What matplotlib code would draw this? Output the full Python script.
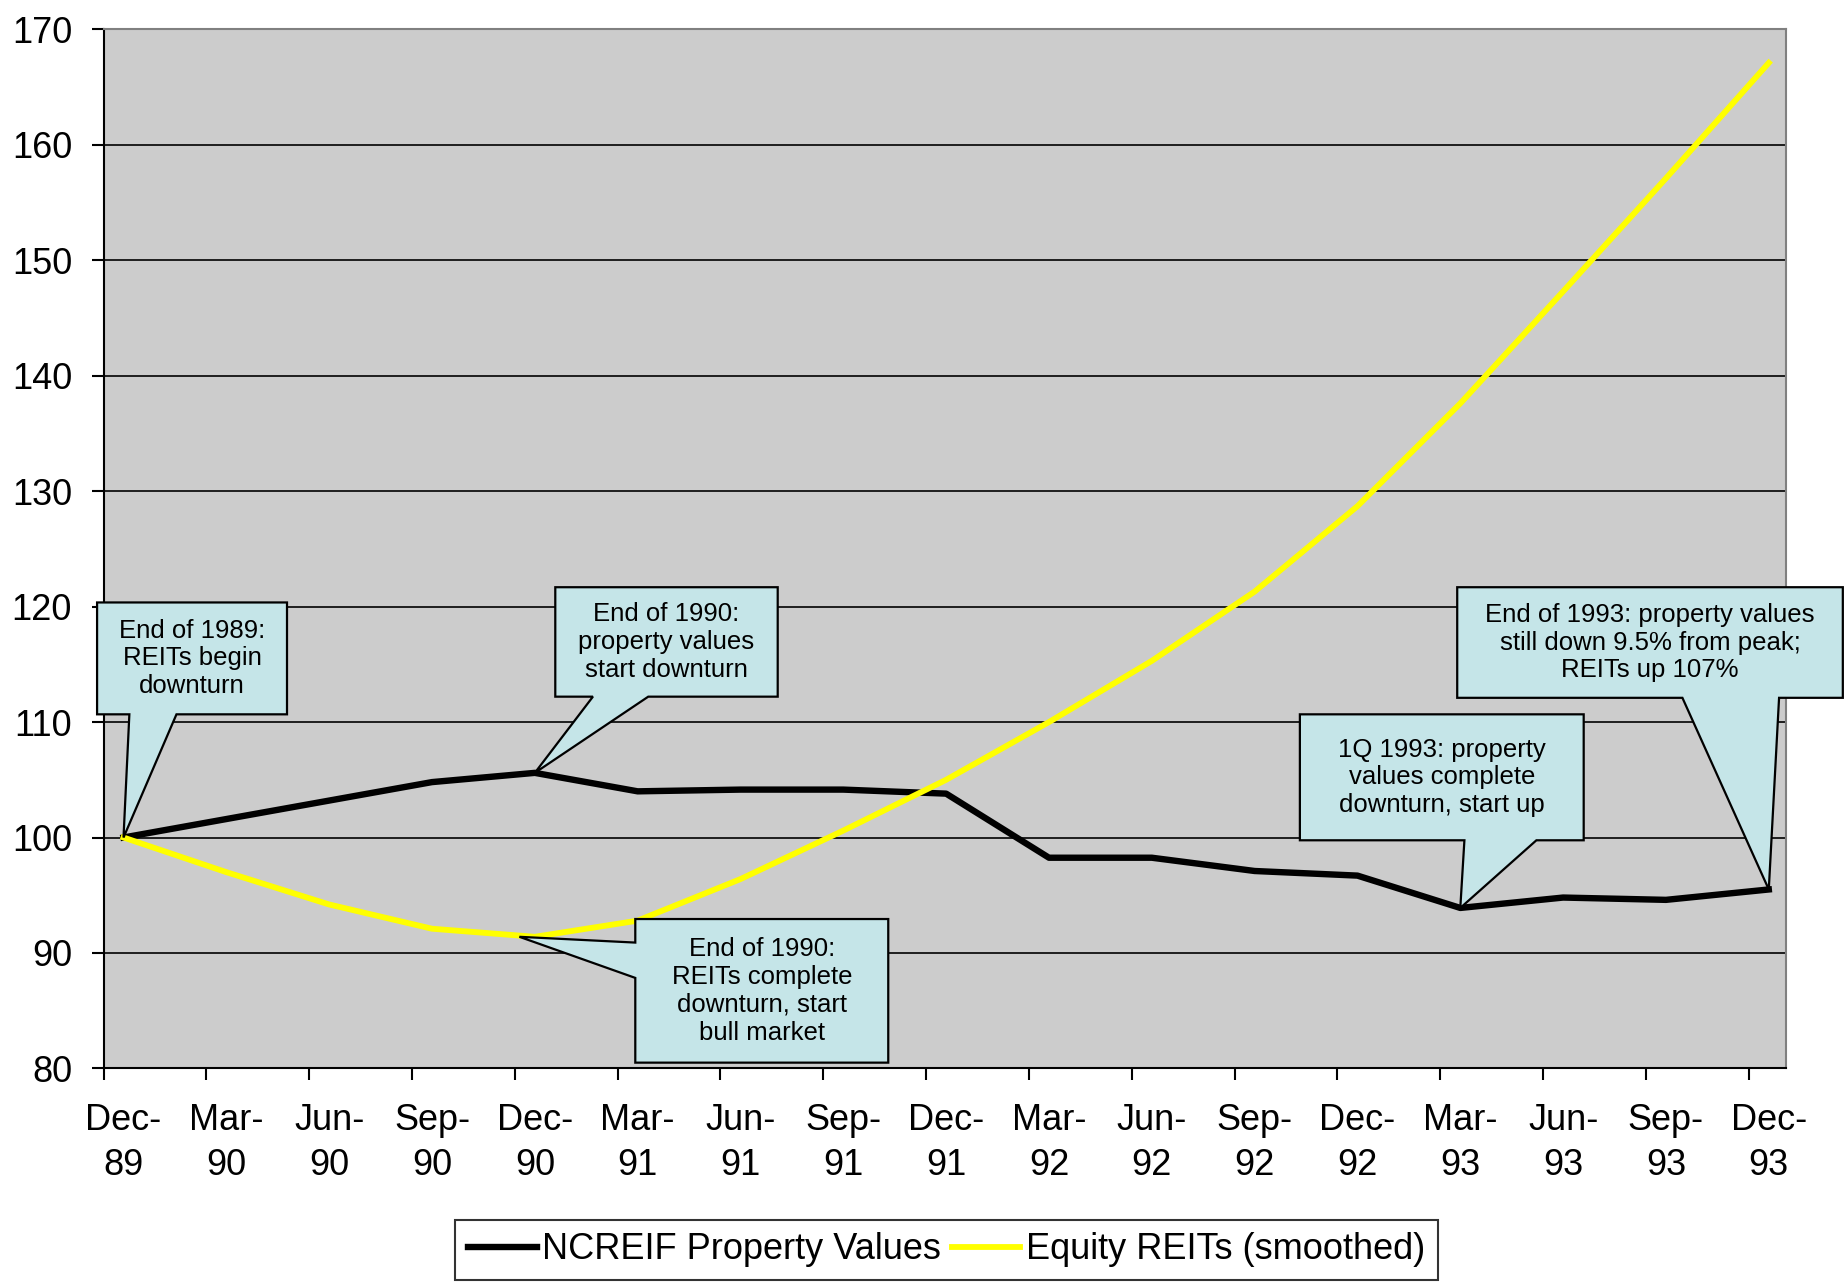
import matplotlib
matplotlib.use("Agg")
import matplotlib.pyplot as plt
from matplotlib.patches import Polygon
import numpy as np

months = ["Dec-\n89", "Mar-\n90", "Jun-\n90", "Sep-\n90", "Dec-\n90", "Mar-\n91",
          "Jun-\n91", "Sep-\n91", "Dec-\n91", "Mar-\n92", "Jun-\n92", "Sep-\n92",
          "Dec-\n92", "Mar-\n93", "Jun-\n93", "Sep-\n93", "Dec-\n93"]
ncreif = [100.0, 101.6, 103.2, 104.8, 105.6, 104.0, 104.15, 104.15, 103.8,
          98.25, 98.25, 97.1, 96.7, 93.9, 94.8, 94.6, 95.5]
reits = [100.0, 97.0, 94.2, 92.1, 91.4, 92.8, 96.4, 100.6, 105.0,
         110.0, 115.3, 121.3, 128.7, 137.6, 147.3, 157.1, 167.1]
yticks = [80, 90, 100, 110, 120, 130, 140, 150, 160, 170]

notes = [
    "End of 1989:\nREITs begin\ndownturn",
    "End of 1990:\nproperty values\nstart downturn",
    "End of 1990:\nREITs complete\ndownturn, start\nbull market",
    "1Q 1993: property\nvalues complete\ndownturn, start up",
    "End of 1993: property values\nstill down 9.5% from peak;\nREITs up 107%",
]

plt.rcParams["font.family"] = ["Liberation Sans", "DejaVu Sans"]

fig = plt.figure(figsize=(18.45, 12.82), dpi=100)
ax = fig.add_axes([0.0561, 0.1666, 0.9119, 0.8105])
ax.set_facecolor("#CCCCCC")

x = np.arange(len(months))
ax.plot(x, ncreif, color="black", lw=4.6, zorder=3, label="NCREIF Property Values")
ax.plot(x, reits, color="#FFFF00", lw=4.2, zorder=4, label="Equity REITs (smoothed)")

ax.set_ylim(yticks[0], yticks[-1])
ax.set_yticks(yticks)
for t in yticks[1:-1]:
    ax.axhline(t, color="black", lw=1.2, zorder=1)

off = 0.1945
ax.set_xlim(-off, len(months) - 1 + 0.167)
ax.set_xticks(np.arange(len(months)) - off)
ax.set_xticklabels([""] * len(months))
ax.set_xticks(x, minor=True)
ax.set_xticklabels(months, minor=True, linespacing=1.35)
ax.tick_params(axis="x", which="major", direction="out", length=8.6, width=1.5)
ax.tick_params(axis="x", which="minor", length=0, pad=25, labelsize=26)
ax.tick_params(axis="y", direction="out", length=8.6, width=1.5, pad=14, labelsize=26)

for s in ["left", "bottom"]:
    ax.spines[s].set_color("black")
    ax.spines[s].set_linewidth(1.5)
for s in ["top", "right"]:
    ax.spines[s].set_color("#808080")
    ax.spines[s].set_linewidth(1.5)


def callout(box, wedge, tip, text, side="bottom"):
    x0, x1, y0, y1 = box
    if side == "bottom":
        w0, w1 = wedge
        verts = [(x0, y1), (x1, y1), (x1, y0), (w1, y0), tip, (w0, y0), (x0, y0)]
    else:
        w0, w1 = wedge
        verts = [(x0, y1), (x1, y1), (x1, y0), (x0, y0), (x0, w1), tip, (x0, w0)]
    ax.add_patch(Polygon(verts, closed=True, fc="#C5E5E8", ec="black", lw=1.6,
                         zorder=6, clip_on=False))
    ax.text((x0 + x1) / 2, (y0 + y1) / 2, text, ha="center", va="center",
            fontsize=18.5, linespacing=1.2, zorder=7)


callout((-0.257, 1.590, 110.67, 120.36), (0.057, 0.515), (0, ncreif[0]), notes[0])
callout((4.199, 6.362, 112.2, 121.68), (4.565, 5.103), (4, ncreif[4]), notes[1])
callout((4.977, 7.437, 80.5, 92.94), (90.9, 87.84), (4 - 0.15, reits[4]), notes[2], side="left")
callout((11.44, 14.2, 99.76, 110.67), (13.04, 13.74), (13, ncreif[13]), notes[3])
callout((12.97, 16.72, 112.1, 121.68), (15.16, 16.1), (16, ncreif[16]), notes[4])

leg = fig.legend(loc="center", bbox_to_anchor=(0.513, 0.025), ncol=2, fontsize=26,
                 frameon=True, fancybox=False, edgecolor="black", handlelength=1.9,
                 handletextpad=0.15, columnspacing=0.3, borderpad=0.35)
leg.get_frame().set_linewidth(1.5)

fig.savefig("out.png", dpi=100)
